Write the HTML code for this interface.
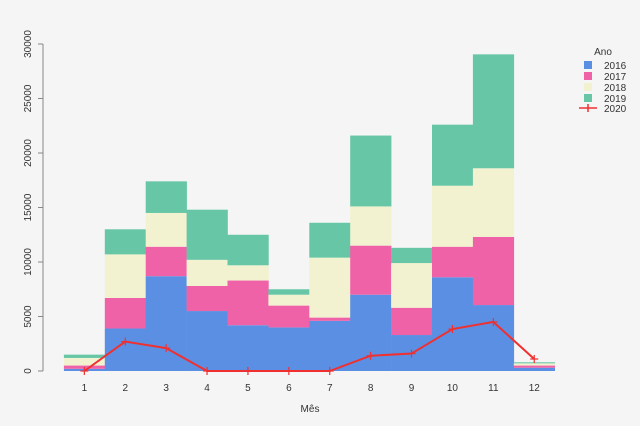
<!DOCTYPE html>
<html><head><meta charset="utf-8"><style>
html,body{margin:0;padding:0;background:#f5f5f5;}
svg{display:block;font-family:"Liberation Sans",sans-serif;}
</style></head><body>
<svg id="c" width="640" height="426" viewBox="0 0 640 426" xmlns="http://www.w3.org/2000/svg">
<rect width="640" height="426" fill="#f5f5f5"/>
<g id="bars"></g>
<g stroke="#888" stroke-width="1" fill="none">
<line x1="43" y1="44" x2="43" y2="371"/>
</g>
<g id="ticks"></g>
<g id="line"></g>
<text x="310" y="412" font-size="10" fill="#333" text-anchor="middle">Mês</text>
<g font-size="10" fill="#333">
<text x="603" y="55" text-anchor="middle">Ano</text>
<rect x="584" y="61" width="8" height="8" fill="#5b8fe3"/><text x="604" y="69">2016</text>
<rect x="584" y="72" width="8" height="8" fill="#f062a8"/><text x="604" y="80">2017</text>
<rect x="584" y="83" width="8" height="8" fill="#f2f2d0"/><text x="604" y="91">2018</text>
<rect x="584" y="94" width="8" height="8" fill="#66c6a6"/><text x="604" y="102">2019</text>
<line x1="579" y1="108" x2="597" y2="108" stroke="#f03030" stroke-width="1.5"/>
<line x1="588" y1="104" x2="588" y2="112" stroke="#f03030" stroke-width="1.5"/>
<text x="604" y="112">2020</text>
</g>
</svg>
<script>
var ns="http://www.w3.org/2000/svg";
function el(p,t,a){var e=document.createElementNS(ns,t);for(var k in a)e.setAttribute(k,a[k]);p.appendChild(e);return e;}
function Y(v){return 371-v*0.0109;}
var data=[[200,500,1200,1500],[3900,6700,10700,13000],[8700,11400,14500,17400],[5500,7800,10200,14800],[4200,8300,9700,12500],[4000,6000,7000,7500],[4600,4900,10400,13600],[7000,11500,15100,21600],[3300,5800,9900,11300],[8600,11400,17000,22600],[6050,12300,18600,29050],[300,500,700,800]];
var line=[0,2700,2100,0,0,0,0,1400,1600,3850,4500,1100];
var cols=["#5b8fe3","#f062a8","#f2f2d0","#66c6a6"];
var bars=document.getElementById("bars"),ticks=document.getElementById("ticks"),lg=document.getElementById("line");
var W=40.9,L=63.9;
for(var i=0;i<12;i++){var x=L+i*W,prev=0;
 for(var j=0;j<4;j++){var v=data[i][j];el(bars,"rect",{x:x,y:Y(v),width:W+0.3,height:Y(prev)-Y(v),fill:cols[j]});prev=v;}
 var t=el(ticks,"text",{x:x+W/2,y:391,"font-size":10,fill:"#333","text-anchor":"middle"});t.textContent=i+1;}
for(var k=0;k<=6;k++){var yy=Y(k*5000);el(ticks,"line",{x1:38,x2:43,y1:yy,y2:yy,stroke:"#888"});
 var tt=el(ticks,"text",{x:0,y:0,"font-size":10,fill:"#333","text-anchor":"middle",transform:"translate(31,"+yy+") rotate(-90)"});tt.textContent=k*5000;}
var pts=line.map(function(v,i){return (L+i*W+W/2)+","+Y(v);}).join(" ");
el(lg,"polyline",{points:pts,fill:"none",stroke:"#f03030","stroke-width":2});
line.forEach(function(v,i){var x=L+i*W+W/2,y=Y(v);
 el(lg,"line",{x1:x-4,x2:x+4,y1:y,y2:y,stroke:"#f03030","stroke-width":1.2});
 el(lg,"line",{x1:x,x2:x,y1:y-4,y2:y+4,stroke:"#f03030","stroke-width":1.2});});
</script>
</body></html>
